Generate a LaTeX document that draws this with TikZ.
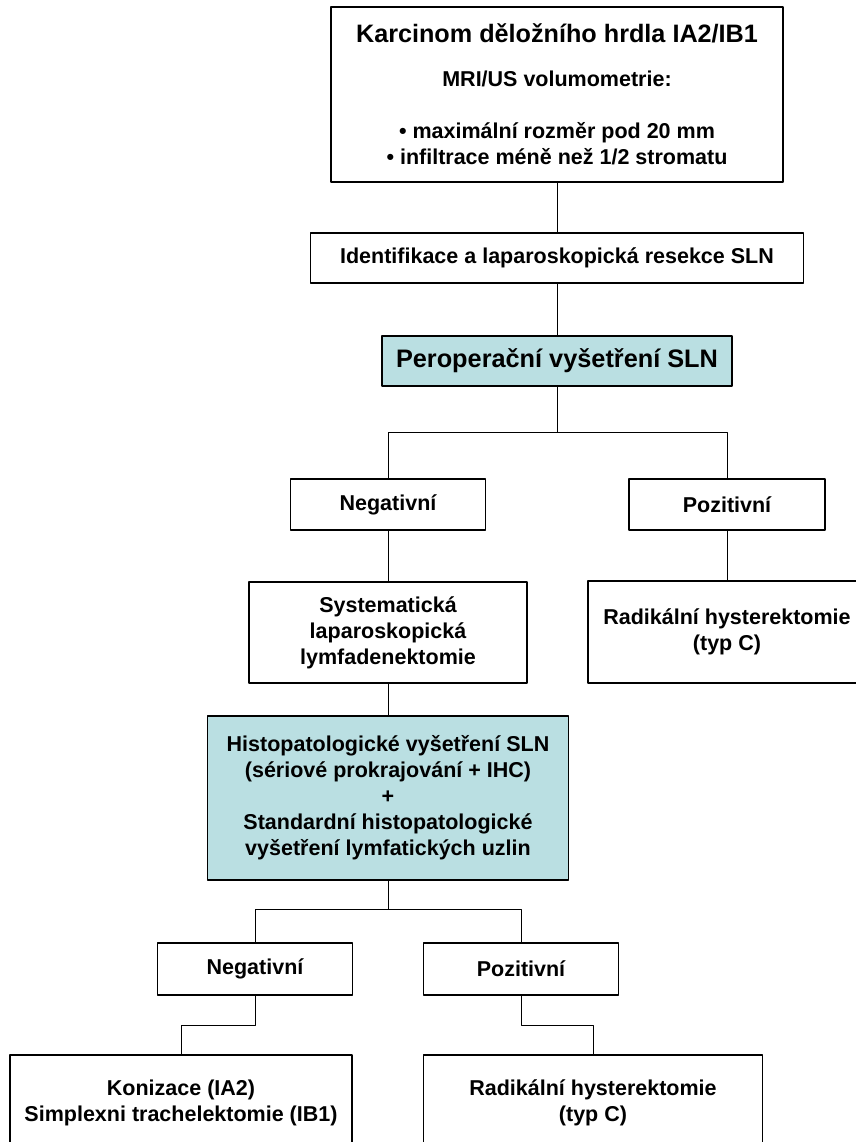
\documentclass[tikz,border=0pt]{standalone}
\usepackage{fontspec}
\setmainfont{Liberation Sans}
\definecolor{slnteal}{RGB}{186,223,226}

\begin{document}
\begin{tikzpicture}[x=1pt, y=-1pt, line join=round,
    box/.style={draw, line width=1.3pt, align=center, inner sep=0pt,
      font=\fontsize{21.5}{26}\selectfont\bfseries},
    tealbox/.style={box, fill=slnteal},
    link/.style={line width=1pt}]

    % Bounding box
    \useasboundingbox (0,0) rectangle (855,1142);

    % Boxes
    \node[box, minimum width=452pt, minimum height=175pt] (karcinom) at (557,94.5)
      {{\fontsize{25.2}{30}\selectfont Karcinom děložního hrdla IA2/IB1}\\[18pt]
       MRI/US volumometrie:\\[26pt]
       • maximální rozměr pod 20 mm\\
       • infiltrace méně než 1/2 stromatu};
    \node[box, minimum width=493pt, minimum height=50pt] (ident) at (557,258)
      {Identifikace a laparoskopická resekce SLN};
    \node[tealbox, minimum width=350pt, minimum height=50pt,
      font=\fontsize{25.3}{30}\selectfont\bfseries] (perop) at (557,361)
      {Peroperační vyšetření SLN};

    \node[box, minimum width=195pt, minimum height=51pt] (neg1) at (388,504.5) {Negativní};
    \node[box, minimum width=196pt, minimum height=51pt] (poz1) at (727,504.5) {Pozitivní};

    \node[box, minimum width=278pt, minimum height=101pt] (system) at (388,632.5)
      {Systematická\\ laparoskopická\\ lymfadenektomie};
    \node[box, minimum width=278pt, minimum height=102pt] (radik1) at (727,632)
      {Radikální hysterektomie\\ (typ C)};

    \node[tealbox, minimum width=361pt, minimum height=164pt] (histo) at (388,798)
      {Histopatologické vyšetření SLN\\ (sériové prokrajování + IHC)\\ +\\
       Standardní histopatologické\\ vyšetření lymfatických uzlin};

    \node[box, minimum width=195pt, minimum height=52pt] (neg2) at (255,969) {Negativní};
    \node[box, minimum width=195pt, minimum height=52pt] (poz2) at (521,969) {Pozitivní};

    \node[box, minimum width=342pt, minimum height=96pt] (koniz) at (181,1103)
      {Konizace (IA2)\\ Simplexni trachelektomie (IB1)};
    \node[box, minimum width=339pt, minimum height=96pt] (radik2) at (593,1103)
      {Radikální hysterektomie\\ (typ C)};

    % Connectors
    \draw[link] (karcinom.south) -- (ident.north);
    \draw[link] (ident.south) -- (perop.north);
    \draw[link] (perop.south) -- ++(0,46) coordinate (split1);
    \draw[link] (split1) -| (neg1.north);
    \draw[link] (split1) -| (poz1.north);
    \draw[link] (neg1.south) -- (system.north);
    \draw[link] (poz1.south) -- (radik1.north);
    \draw[link] (system.south) -- (histo.north);
    \draw[link] (histo.south) -- ++(0,29) coordinate (split2);
    \draw[link] (split2) -| (neg2.north);
    \draw[link] (split2) -| (poz2.north);
    \draw[link] (neg2.south) -- ++(0,30) -| (koniz.north);
    \draw[link] (poz2.south) -- ++(0,30) -| (radik2.north);

\end{tikzpicture}
\end{document}
